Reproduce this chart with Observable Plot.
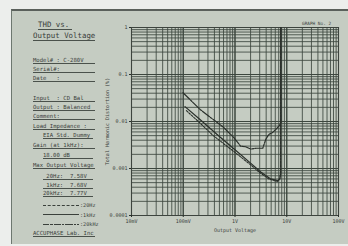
<!DOCTYPE html>
<html>
<head>
<meta charset="utf-8">
<script src="https://cdn.jsdelivr.net/npm/d3@7"></script>
<script src="https://cdn.jsdelivr.net/npm/@observablehq/plot@0.6"></script>
<style>
  html, body { margin: 0; padding: 0; background: #eceeec; }
  #wrap { position: relative; width: 348px; height: 246px; overflow: hidden; font-family: "DejaVu Sans Mono", monospace; color: #3a403b; }
  #panel { position: absolute; left: 11px; top: 9px; right: 0; bottom: 2px; background: #c5ccc2; border-left: 1px solid #6d776f; border-top: 2px solid #5a605b; }
  #chart { position: absolute; left: 0; top: 0; }
  .ln { position: absolute; left: 33px; width: 62px; font-size: 5.6px; line-height: 6px; border-bottom: 0.8px solid #4a514b; white-space: pre; }
  .ind { left: 43px; width: 50px; }
  .ttl { font-size: 7.4px; line-height: 8px; }
  .lg { position: absolute; left: 43px; font-size: 5.2px; line-height: 6px; white-space: pre; display: flex; align-items: center; }
  .lg i { display: inline-block; width: 36px; height: 0; border-top: 1px solid #3a403b; margin-right: 1px; }
  #no { position: absolute; left: 302px; top: 21px; font-size: 4.4px; white-space: pre; }
</style>
</head>
<body>
<div id="wrap">
  <div id="panel"></div>
  <div id="chart"></div>
  <div id="notes"></div>
  <div id="no">GRAPH No. 2</div>
</div>
<script>
// ---- data ----
const xTickValues = [0.01, 0.1, 1, 10, 100];
const xTickLabels = ["10mV", "100mV", "1V", "10V", "100V"];
const yTickValues = [0.0001, 0.001, 0.01, 0.1, 1];
const yTickLabels = ["0.0001", "0.001", "0.01", "0.1", "1"];

const seriesNames = ["20Hz", "1kHz", "20kHz"];
const maxOutput = ["7.58V", "7.68V", "7.77V"];

const v20Hz   = [0.115, 0.2, 0.38, 1.0, 2.0, 3.0, 4.5, 6.5, 7.3, 7.58, 7.58];
const thd20Hz = [0.017, 0.0098, 0.0050, 0.0022, 0.0012, 0.00082, 0.00060, 0.00053, 0.00058, 0.0008, 1];
const v1kHz   = [0.108, 0.2, 0.5, 1.0, 2.0, 3.15, 4.9, 6.75, 7.4, 7.68, 7.68];
const thd1kHz = [0.0207, 0.0116, 0.0048, 0.0025, 0.0013, 0.00084, 0.00060, 0.00055, 0.00062, 0.0008, 1];
const v20kHz   = [0.099, 0.212, 0.38, 0.6, 0.94, 1.28, 1.6, 2.0, 2.6, 3.44, 3.94, 4.5, 5.3, 6.17, 7.2, 7.77, 7.77];
const thd20kHz = [0.041, 0.018, 0.011, 0.0075, 0.0046, 0.0030, 0.0029, 0.0026, 0.0027, 0.0027, 0.0042, 0.0053, 0.0058, 0.0068, 0.0082, 0.0095, 1];

const infoLines = [
  ["Model# : C-280V", 57, false],
  ["Serial#:", 66, false],
  ["Date   :", 75, false],
  ["Input  : CD Bal", 95, false],
  ["Output : Balanced", 104, false],
  ["Comment:", 113, false],
  ["Load Impedance :", 123, false],
  ["EIA Std. Dummy", 132, true],
  ["Gain (at 1kHz):", 142, false],
  ["18.00 dB", 152, true],
  ["Max Output Voltage", 162, false],
  [" 20Hz:  " + maxOutput[0], 173, true],
  [" 1kHz:  " + maxOutput[1], 182, true],
  ["20kHz:  " + maxOutput[2], 190, true],
  ["ACCUPHASE Lab. Inc", 230, false]
];

// ---- build ----
const zip = (name, xs, ys) => xs.map((v, i) => ({series: name, v, thd: ys[i]}));
const d20 = zip("20Hz", v20Hz, thd20Hz);
const d1k = zip("1kHz", v1kHz, thd1kHz);
const d20k = zip("20kHz", v20kHz, thd20kHz);

const ink = "#2a302b";
const gridColor = "#3c463e";
const xLab = d => xTickLabels[xTickValues.indexOf(d)] ?? "";
const yLab = d => yTickLabels[yTickValues.indexOf(d)] ?? "";

const chart = Plot.plot({
  width: 348,
  height: 246,
  marginLeft: 131,
  marginRight: 10,
  marginTop: 27,
  marginBottom: 31,
  style: { background: "transparent", fontFamily: "DejaVu Sans Mono, monospace", color: "#3a403b" },
  x: { type: "log", domain: [0.01, 100] },
  y: { type: "log", domain: [0.0001, 1] },
  marks: [
    Plot.gridX({ ticks: 40, stroke: gridColor, strokeOpacity: 0.95, strokeWidth: 0.9 }),
    Plot.gridY({ ticks: 40, stroke: gridColor, strokeOpacity: 0.95, strokeWidth: 0.9 }),
    Plot.gridX(xTickValues, { stroke: gridColor, strokeOpacity: 1, strokeWidth: 1.1 }),
    Plot.gridY(yTickValues, { stroke: gridColor, strokeOpacity: 1, strokeWidth: 1.1 }),
    Plot.frame({ stroke: "#3d443e", strokeWidth: 1 }),
    Plot.axisX(xTickValues, {
      tickFormat: xLab,
      tickSize: 2, tickPadding: 1.5, fontSize: 5, stroke: ink,
      label: "Output Voltage", labelAnchor: "center", labelArrow: "none", labelOffset: 16
    }),
    Plot.axisY(yTickValues, {
      tickFormat: yLab,
      tickSize: 2, tickPadding: 2, fontSize: 5, stroke: ink,
      label: "Total Harmonic Distortion (%)", labelAnchor: "center", labelArrow: "none", labelOffset: 26
    }),
    Plot.line(d20, { x: "v", y: "thd", stroke: ink, strokeWidth: 1.1, strokeDasharray: "2,1.3" }),
    Plot.line(d1k, { x: "v", y: "thd", stroke: ink, strokeWidth: 1.2 }),
    Plot.line(d20k, { x: "v", y: "thd", stroke: ink, strokeWidth: 1.2, strokeDasharray: "9,1.2,2,1.2" })
  ]
});
document.getElementById("chart").appendChild(chart);

// ---- info panel ----
const notes = document.getElementById("notes");
function addDiv(cls, text, top) {
  const d = document.createElement("div");
  d.className = cls;
  d.textContent = text;
  d.style.top = top + "px";
  notes.appendChild(d);
  return d;
}
const t1 = addDiv("ln ttl", "THD vs.", 21); t1.style.left = "38px"; t1.style.width = "34px";
const t2 = addDiv("ln ttl", "Output Voltage", 32);
infoLines.forEach(([txt, top, ind]) => addDiv(ind ? "ln ind" : "ln", txt, top));

seriesNames.forEach((name, i) => {
  const d = document.createElement("div");
  d.className = "lg";
  d.style.top = (202 + i * 9.5) + "px";
  const line = document.createElement("i");
  if (i === 0) line.style.borderTop = "1px dashed #3a403b";
  if (i === 2) { line.style.borderTop = "1px solid transparent"; line.style.borderImage = "repeating-linear-gradient(90deg,#3a403b 0 7px,transparent 7px 8px,#3a403b 8px 10px,transparent 10px 11px) 1"; }
  d.appendChild(line);
  d.appendChild(document.createTextNode(":" + name));
  notes.appendChild(d);
});
</script>
</body>
</html>
